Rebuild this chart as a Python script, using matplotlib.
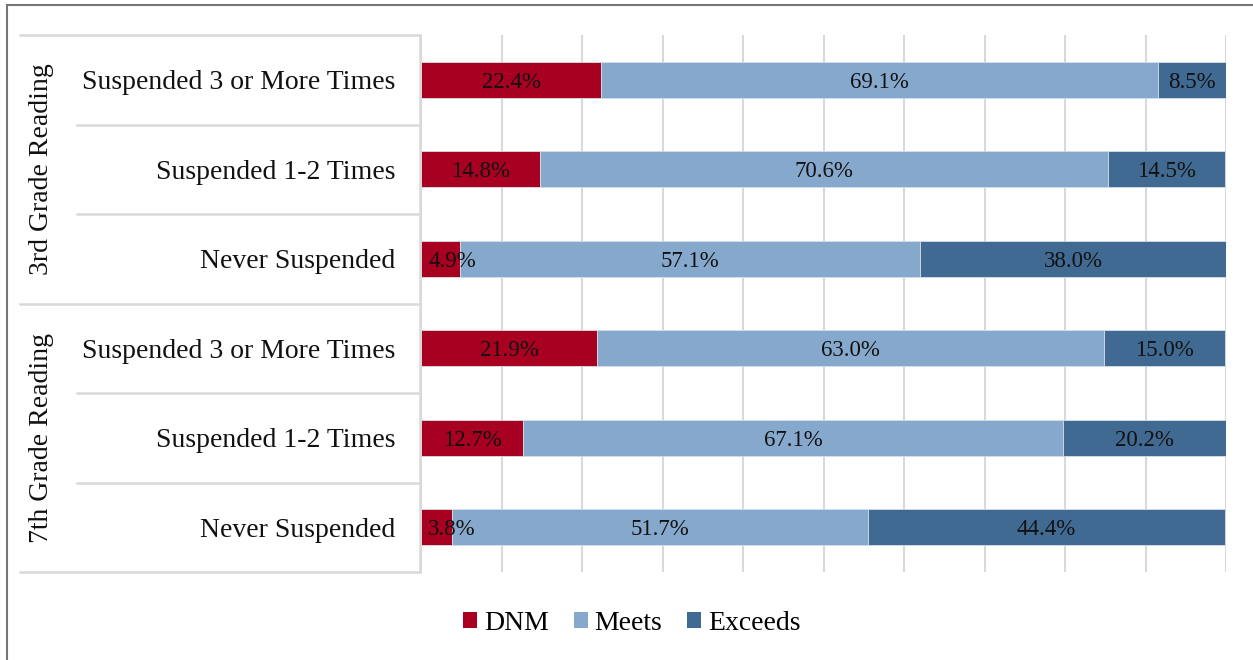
"""Stacked bar chart: reading proficiency by suspension count."""
import matplotlib
matplotlib.use("Agg")
import matplotlib.pyplot as plt
from matplotlib.patches import Patch
from matplotlib.lines import Line2D
from matplotlib.transforms import blended_transform_factory

plt.rcParams["font.family"] = ["Liberation Serif", "DejaVu Serif"]

W, H = 1253, 660

groups = ["3rd Grade Reading", "7th Grade Reading"]
categories = [
    "Suspended 3 or More Times",
    "Suspended 1-2 Times",
    "Never Suspended",
    "Suspended 3 or More Times",
    "Suspended 1-2 Times",
    "Never Suspended",
]
dnm = [22.4, 14.8, 4.9, 21.9, 12.7, 3.8]
meets = [69.1, 70.6, 57.1, 63.0, 67.1, 51.7]
exceeds = [8.5, 14.5, 38.0, 15.0, 20.2, 44.4]
series_names = ["DNM", "Meets", "Exceeds"]
colors = ["#A80020", "#85A8CC", "#416A92"]
grid_color = "#D9D9D9"

fig = plt.figure(figsize=(W / 100, H / 100), dpi=100, facecolor="white")
ax = fig.add_axes([421 / W, 1 - 572 / H, (1226 - 421) / W, (572 - 35) / H])

ypos = list(range(len(categories)))
left = [0.0] * len(categories)
for name, vals, col in zip(series_names, [dnm, meets, exceeds], colors):
    ax.barh(ypos, vals, left=left, height=0.4, color=col, edgecolor="#D5DEE8",
            linewidth=0.6, zorder=3)
    for y, l, v in zip(ypos, left, vals):
        txt = f"{v:.1f}%"
        if v < 6:
            ax.text(l + 0.9, y, txt, ha="left", va="center_baseline", fontsize=16.5,
                    color="#111111", zorder=4)
        else:
            ax.text(l + v / 2, y, txt, ha="center", va="center_baseline", fontsize=16.5,
                    color="#111111", zorder=4)
    left = [a + b for a, b in zip(left, vals)]

ax.set_xlim(0, 100)
ax.set_ylim(len(categories) - 0.5, -0.5)
ax.set_xticks(range(0, 101, 10))
ax.xaxis.grid(True, color=grid_color, linewidth=1.5, zorder=0)
ax.tick_params(left=False, bottom=False, labelleft=False, labelbottom=False)
for s in ax.spines.values():
    s.set_visible(False)

# table-like category axis
tr = blended_transform_factory(fig.transFigure, ax.transData)
x_axis = 420 / W
for b in [-0.5, 2.5, 5.5]:
    fig.add_artist(Line2D([20 / W, x_axis], [b, b], transform=tr,
                          color=grid_color, lw=1.8))
for b in [0.5, 1.5, 3.5, 4.5]:
    fig.add_artist(Line2D([77 / W, x_axis], [b, b], transform=tr,
                          color=grid_color, lw=1.8))
fig.add_artist(Line2D([x_axis, x_axis], [-0.5, 5.5], transform=tr,
                      color=grid_color, lw=1.8))

for y, lab in zip(ypos, categories):
    fig.text(395 / W, y, lab, transform=tr, ha="right", va="center_baseline",
             fontsize=20, color="#111111")
for i, g in enumerate(groups):
    fig.text(42 / W, 1 + 3 * i, g, transform=tr, ha="center", va="center",
             rotation=90, fontsize=20, color="#111111")

handles = [Patch(facecolor=c, edgecolor="none") for c in colors]
fig.legend(handles, series_names, loc="center", bbox_to_anchor=(632 / W, 1 - 623 / H),
           ncol=3, frameon=False, fontsize=20, handlelength=0.5, handleheight=0.5,
           handletextpad=0.25, columnspacing=0.9)

# outer border (left and top visible)
fig.add_artist(Line2D([7 / W, 7 / W], [0, 1 - 5 / H], transform=fig.transFigure,
                      color="#767676", lw=1.5))
fig.add_artist(Line2D([7 / W, 1], [1 - 5 / H, 1 - 5 / H], transform=fig.transFigure,
                      color="#767676", lw=1.5))

fig.savefig("out.png", dpi=100, facecolor="white")
